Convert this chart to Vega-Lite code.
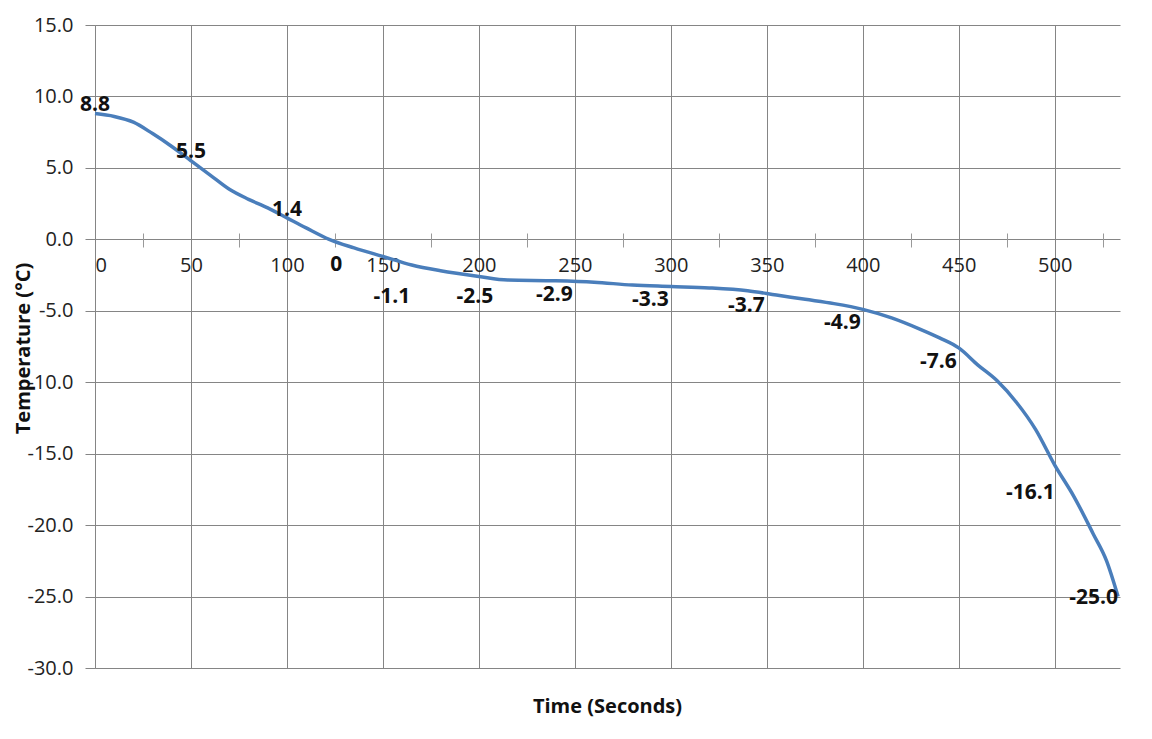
{
  "$schema": "https://vega.github.io/schema/vega-lite/v6.json",
  "autosize": {"type": "none"},
  "width": 1025,
  "height": 643,
  "padding": {"left": 95, "top": 25, "right": 32, "bottom": 71},
  "background": "white",
  "config": {
    "view": {"stroke": null},
    "font": "Open Sans",
    "axis": {"labelFont": "Open Sans", "titleFont": "Open Sans", "labelColor": "#222", "titleColor": "#111"},
    "text": {"font": "Open Sans", "fontSize": 21, "fontWeight": "bold", "color": "#111"}
  },
  "datasets": {
    "curve": [
      {"time": 0, "temp": 8.8}, {"time": 10, "temp": 8.6}, {"time": 20, "temp": 8.2},
      {"time": 30, "temp": 7.4}, {"time": 40, "temp": 6.5}, {"time": 50, "temp": 5.5},
      {"time": 60, "temp": 4.5}, {"time": 70, "temp": 3.5}, {"time": 80, "temp": 2.8},
      {"time": 90, "temp": 2.2}, {"time": 100, "temp": 1.5}, {"time": 110, "temp": 0.8},
      {"time": 122, "temp": 0.0}, {"time": 135, "temp": -0.6}, {"time": 150, "temp": -1.2},
      {"time": 165, "temp": -1.8}, {"time": 180, "temp": -2.2}, {"time": 200, "temp": -2.6},
      {"time": 215, "temp": -2.85}, {"time": 240, "temp": -2.9}, {"time": 260, "temp": -3.0},
      {"time": 280, "temp": -3.2}, {"time": 300, "temp": -3.3}, {"time": 320, "temp": -3.4},
      {"time": 340, "temp": -3.6}, {"time": 355, "temp": -3.9}, {"time": 370, "temp": -4.2},
      {"time": 385, "temp": -4.5}, {"time": 400, "temp": -4.9}, {"time": 415, "temp": -5.5},
      {"time": 430, "temp": -6.3}, {"time": 440, "temp": -6.9}, {"time": 450, "temp": -7.6},
      {"time": 460, "temp": -8.8}, {"time": 470, "temp": -9.9}, {"time": 480, "temp": -11.4},
      {"time": 490, "temp": -13.3}, {"time": 500, "temp": -15.8}, {"time": 510, "temp": -18.0},
      {"time": 520, "temp": -20.6}, {"time": 527, "temp": -22.5}, {"time": 533, "temp": -25.0}
    ],
    "points": [
      {"time": 0, "temp": 8.8, "label": "8.8"},
      {"time": 50, "temp": 5.5, "label": "5.5"},
      {"time": 100, "temp": 1.4, "label": "1.4"},
      {"time": 122, "temp": 0, "label": "0"},
      {"time": 150, "temp": -1.1, "label": "-1.1"},
      {"time": 200, "temp": -2.5, "label": "-2.5"},
      {"time": 250, "temp": -2.9, "label": "-2.9"},
      {"time": 300, "temp": -3.3, "label": "-3.3"},
      {"time": 350, "temp": -3.7, "label": "-3.7"},
      {"time": 400, "temp": -4.9, "label": "-4.9"},
      {"time": 450, "temp": -7.6, "label": "-7.6"},
      {"time": 500, "temp": -16.1, "label": "-16.1"},
      {"time": 533, "temp": -25.0, "label": "-25.0"}
    ]
  },
  "resolve": {"axis": {"x": "independent", "y": "independent"}},
  "layer": [
    {
      "data": {"name": "curve"},
      "mark": {"type": "line", "color": "#4a7ebb", "strokeWidth": 3.5, "interpolate": "monotone"},
      "encoding": {
        "x": {
          "field": "time", "type": "quantitative",
          "scale": {"domain": [0, 534], "nice": false, "zero": false},
          "axis": {
            "values": [0, 50, 100, 150, 200, 250, 300, 350, 400, 450, 500],
            "offset": -428.67,
            "domain": false,
            "ticks": false,
            "grid": true, "gridColor": "#858585", "gridOpacity": 1, "gridWidth": 1,
            "labelFontSize": 20, "labelPadding": 16,
            "title": "Time (Seconds)", "titleFontSize": 20, "titleFontWeight": "bold",
            "titleX": 512, "titleY": 467, "titleBaseline": "middle", "titleAnchor": null
          }
        },
        "y": {
          "field": "temp", "type": "quantitative",
          "scale": {"domain": [-30, 15], "nice": false, "zero": false},
          "axis": {
            "values": [-30, -25, -20, -15, -10, -5, 0, 5, 10, 15],
            "labelExpr": "(datum.value < 0 ? '-' : '') + format(abs(datum.value), '.1f')",
            "domain": true, "domainColor": "#858585",
            "ticks": true, "tickSize": 10, "tickColor": "#858585",
            "grid": true, "gridColor": "#858585", "gridOpacity": 1, "gridWidth": 1,
            "labelFontSize": 20, "labelPadding": 12,
            "title": "Temperature (°C)", "titleFontSize": 20, "titleFontWeight": "bold",
            "titleX": -72, "titleY": 323, "titleAngle": -90, "titleAlign": "center", "titleBaseline": "middle"
          }
        }
      }
    },
    {
      "data": {"name": "points"},
      "transform": [{"filter": "datum.temp > 1"}],
      "mark": {"type": "text", "align": "center", "baseline": "bottom", "dy": 1},
      "encoding": {
        "x": {
          "field": "time", "type": "quantitative",
          "axis": {
            "orient": "top",
            "values": [25, 75, 125, 175, 225, 275, 325, 375, 425, 475, 525],
            "offset": -222, "domain": false, "labels": false, "grid": false,
            "ticks": true, "tickSize": 14, "tickColor": "#999", "title": null
          }
        },
        "y": {"field": "temp", "type": "quantitative", "axis": null},
        "text": {"field": "label"}
      }
    },
    {
      "data": {"name": "points"},
      "transform": [{"filter": "datum.label == '0'"}],
      "mark": {"type": "text", "align": "center", "baseline": "top", "dx": 7, "dy": 15},
      "encoding": {
        "x": {"field": "time", "type": "quantitative", "axis": null},
        "y": {"field": "temp", "type": "quantitative", "axis": null},
        "text": {"field": "label"}
      }
    },
    {
      "data": {"name": "points"},
      "transform": [{"filter": "datum.label == '-1.1'"}],
      "mark": {"type": "text", "align": "center", "baseline": "top", "dx": 9, "dy": 31},
      "encoding": {
        "x": {"field": "time", "type": "quantitative", "axis": null},
        "y": {"field": "temp", "type": "quantitative", "axis": null},
        "text": {"field": "label"}
      }
    },
    {
      "data": {"name": "points"},
      "transform": [{"filter": "datum.label == '-2.5'"}],
      "mark": {"type": "text", "align": "center", "baseline": "top", "dx": -4, "dy": 11},
      "encoding": {
        "x": {"field": "time", "type": "quantitative", "axis": null},
        "y": {"field": "temp", "type": "quantitative", "axis": null},
        "text": {"field": "label"}
      }
    },
    {
      "data": {"name": "points"},
      "transform": [{"filter": "datum.time >= 220 && datum.time < 480"}],
      "mark": {"type": "text", "align": "right", "baseline": "top", "dx": -2, "dy": 3},
      "encoding": {
        "x": {"field": "time", "type": "quantitative", "axis": null},
        "y": {"field": "temp", "type": "quantitative", "axis": null},
        "text": {"field": "label"}
      }
    },
    {
      "data": {"name": "points"},
      "transform": [{"filter": "datum.label == '-16.1'"}],
      "mark": {"type": "text", "align": "right", "baseline": "top", "dx": 0, "dy": 13},
      "encoding": {
        "x": {"field": "time", "type": "quantitative", "axis": null},
        "y": {"field": "temp", "type": "quantitative", "axis": null},
        "text": {"field": "label"}
      }
    },
    {
      "data": {"name": "points"},
      "transform": [{"filter": "datum.label == '-25.0'"}],
      "mark": {"type": "text", "align": "right", "baseline": "middle", "dx": 0, "dy": 1},
      "encoding": {
        "x": {"field": "time", "type": "quantitative", "axis": null},
        "y": {"field": "temp", "type": "quantitative", "axis": null},
        "text": {"field": "label"}
      }
    }
  ]
}
